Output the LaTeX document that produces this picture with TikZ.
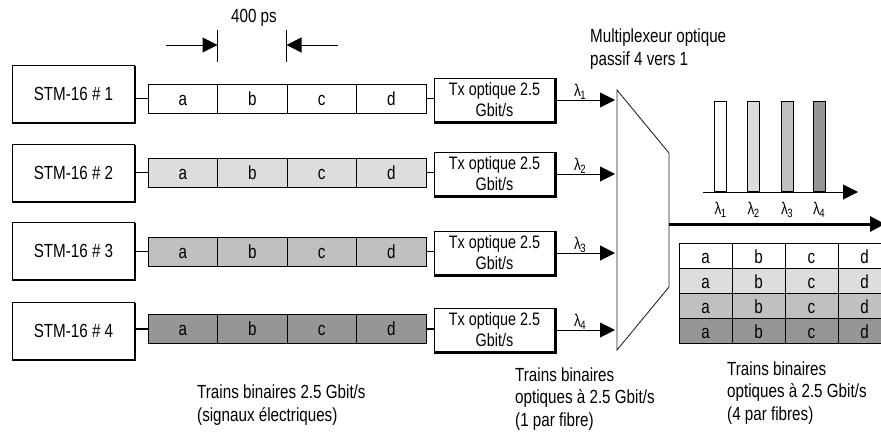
\documentclass[tikz,border=0pt]{standalone}
\usepackage{fontspec}
\setmainfont{Liberation Sans}[FakeStretch=0.8]
\usetikzlibrary{arrows.meta}
\definecolor{g1}{RGB}{255,255,255}
\definecolor{g2}{RGB}{221,221,221}
\definecolor{g3}{RGB}{192,192,192}
\definecolor{g4}{RGB}{150,150,150}
\newcommand{\lam}[1]{λ\kern-0.5pt\raisebox{-3pt}{\fontsize{12}{12}\selectfont #1}}
\begin{document}
\begin{tikzpicture}[x=1pt,y=-1pt,
  txt/.style={inner sep=0pt, font=\fontsize{19}{22.5}\selectfont},
  stmbox/.style={draw, line width=1pt, fill=white, minimum width=122pt, minimum height=57pt, inner sep=0pt, font=\fontsize{19}{22}\selectfont},
  txbox/.style={draw, line width=1pt, fill=white, minimum width=121pt, minimum height=44pt, inner sep=0pt, align=center, font=\fontsize{18}{21}\selectfont},
  cell/.style={draw, line width=1pt, minimum width=69.5pt, minimum height=29pt, inner sep=0pt, text height=13pt, text depth=0pt, font=\fontsize{19}{21}\selectfont},
  tcell/.style={draw, line width=0.9pt, minimum width=53pt, minimum height=25pt, inner sep=0pt, text height=16pt, text depth=0pt, font=\fontsize{19}{21}\selectfont},
  bar/.style={draw, line width=1pt, minimum width=12pt, minimum height=90pt, inner sep=0pt, anchor=south},
  lab/.style={inner sep=0pt, font=\fontsize{17}{17}\selectfont},
  conn/.style={line width=1.6pt},
  arr/.style={line width=1pt, -{Triangle[length=15pt,width=15pt]}},
  heavy/.style={line width=2.6pt, line join=miter},
]
\useasboundingbox (0,0) rectangle (881,432);
\clip (0,0) rectangle (881,432);

% dimension marker
\node[txt] (ps) at (254,18) {400 ps};
\coordinate (d1t) at (217.5,30); \coordinate (d1b) at (217.5,62);
\coordinate (d2t) at (286.5,30); \coordinate (d2b) at (286.5,62);
\coordinate (d1m) at (217.5,45); \coordinate (d2m) at (286.5,45);
\coordinate (da) at (166,45); \coordinate (db) at (338,45);
\draw[line width=0.9pt] (d1t) -- (d1b);
\draw[line width=0.9pt] (d2t) -- (d2b);
\draw[arr] (da) -- (d1m);
\draw[arr] (db) -- (d2m);

% rows
\foreach \r/\sy/\ry/\ty/\col in {1/94/98.5/100/g1, 2/173/172.5/174/g2, 3/251/251.5/253/g3, 4/331/329/330/g4}{
  \node[stmbox] (s\r) at (73.5,\sy) {STM-16 \# \r};
  \draw[heavy] ([yshift=-0.5pt]s\r.north east) -- (s\r.south east) -- (s\r.south west);
  \node[cell, fill=\col] (c\r a) at (182.75,\ry) {a};
  \node[cell, fill=\col] (c\r b) at (252.25,\ry) {b};
  \node[cell, fill=\col] (c\r c) at (321.75,\ry) {c};
  \node[cell, fill=\col] (c\r d) at (391.25,\ry) {d};
  \node[txbox] (t\r) at (494.5,\ty) {Tx optique 2.5\\Gbit/s};
  \draw[heavy] ([yshift=-0.5pt]t\r.north east) -- (t\r.south east) -- (t\r.south west);
  \draw[conn] (s\r.east |- c\r a.west) -- (c\r a.west);
  \draw[conn] (c\r d.east) -- (c\r d.east -| t\r.west);
  \coordinate (m\r) at (615,\ty);
  \draw[arr] (t\r.east) -- (m\r);
  \node[lab] (l\r) at (580,\ty-8) {\lam{\r}};
}

% multiplexer
\coordinate (mtl) at (617,90);
\coordinate (mtr) at (669,153);
\coordinate (mbr) at (669,287);
\coordinate (mbl) at (617,350);
\draw[line width=0.9pt, black!85] (mtl) -- (mtr) -- (mbr) -- (mbl) -- cycle;
\node[txt, anchor=west, align=left] (mux) at (590,49) {Multiplexeur optique\\passif 4 vers 1};

% output fibre
\coordinate (mo) at (669,224);
\coordinate (fib) at (885,224);
\draw[line width=3pt, -{Triangle[length=15pt,width=15pt]}] (mo) -- (fib);

% spectrum
\coordinate (ax0) at (703,192);
\coordinate (ax1) at (858,192);
\draw[arr] (ax0) -- (ax1);
\foreach \i/\x/\col in {1/720.5/g1, 2/753.5/g2, 3/787/g3, 4/819/g4}{
  \node[bar, fill=\col] (b\i) at (\x,192) {};
  \node[lab] (bl\i) at (\x,210) {\lam{\i}};
}

% multiplexed table
\foreach \r/\y/\col in {1/255.5/g1, 2/280.5/g2, 3/305.5/g3, 4/330.5/g4}{
  \node[tcell, fill=\col] (r\r a) at (705.5,\y) {a};
  \node[tcell, fill=\col] (r\r b) at (758.5,\y) {b};
  \node[tcell, fill=\col] (r\r c) at (811.5,\y) {c};
  \node[tcell, fill=\col] (r\r d) at (864.5,\y) {d};
}

% captions
\node[txt, anchor=west, align=left] (cap1) at (197,405) {Trains binaires 2.5 Gbit/s\\(signaux électriques)};
\node[txt, anchor=west, align=left] (cap2) at (515,399) {Trains binaires\\optiques à 2.5 Gbit/s\\(1 par fibre)};
\node[txt, anchor=west, align=left] (cap3) at (727,393) {Trains binaires\\optiques à 2.5 Gbit/s\\(4 par fibres)};
\end{tikzpicture}
\end{document}
